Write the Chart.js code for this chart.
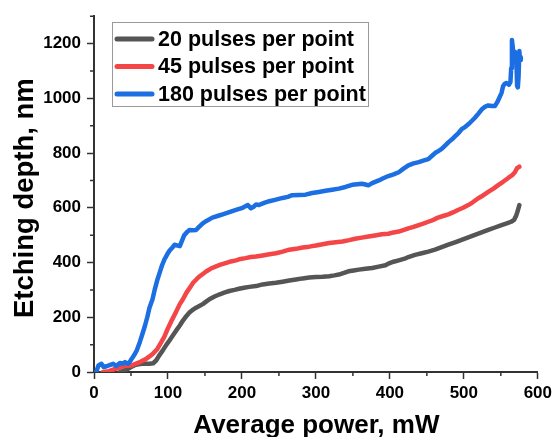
<!DOCTYPE html>
<html>
<head>
<meta charset="utf-8">
<script src="https://cdn.jsdelivr.net/npm/chart.js@4"></script>
<style>
  html, body { margin: 0; padding: 0; background: #ffffff; }
  canvas { display: block; }
</style>
</head>
<body>
<canvas id="c" width="556" height="437"></canvas>
<script>
// ---------------- DATA ----------------
const seriesLabels = ['20 pulses per point', '45 pulses per point', '180 pulses per point'];
const seriesColors = ['#555555', '#f44646', '#1b6fe2'];

const xTitle = 'Average power, mW';
const yTitle = 'Etching depth, nm';

const xTicks = [0, 100, 200, 300, 400, 500, 600];
const xMinor = [50, 150, 250, 350, 450, 550];
const yTicks = [0, 200, 400, 600, 800, 1000, 1200];
const yMinor = [100, 300, 500, 700, 900, 1100, 1300];

// 20 pulses per point
const blackX = [35,40,45,50,55,60,65,70,75,80,84,88,93,98,102,107,111,116,120,125,129,134,138,143,147,152,156,163,170,176,183,190,196,203,210,219,228,237,246,255,264,273,282,291,300,309,318,325,331,338,344,351,358,367,376,385,394,398,405,412,420,425,434,443,452,461,470,479,488,497,506,515,524,533,542,551,558,564,568,571,573,575];
const blackY = [0,5,10,18,25,28,30,30,30,32,42,60,79,100,115,135,151,170,187,205,217,228,235,242,248,258,266,276,284,290,296,300,304,308,311,314,320,323,326,330,334,338,342,345,347,348,350,353,356,362,368,371,374,377,380,385,390,396,403,408,414,420,428,434,440,447,456,465,474,483,492,501,510,519,528,537,543,549,556,573,590,610];

// 45 pulses per point
const redX = [12,20,26,33,39,45,51,56,62,66,70,75,80,85,89,95,100,105,110,116,120,125,130,134,139,143,148,152,158,165,172,178,185,192,198,205,212,219,228,237,246,255,264,273,282,291,300,309,318,327,336,345,353,362,371,380,389,398,405,412,420,425,432,439,446,452,459,465,472,479,486,492,499,506,512,519,526,533,540,546,553,560,565,569,572,575];
const redY = [0,3,9,14,21,23,24,30,36,42,47,57,68,82,100,128,160,188,215,248,265,290,310,326,340,350,360,368,378,386,393,398,404,408,413,416,420,422,426,430,434,440,447,450,455,458,462,467,471,474,477,482,487,491,495,499,503,505,510,513,520,525,530,537,543,549,556,564,570,576,584,592,600,610,620,634,645,658,670,682,695,709,718,730,745,750];

// 180 pulses per point
const blueX = [3,6,10,13,17,21,26,30,35,39,42,46,48,51,55,58,62,65,69,72,75,79,82,86,89,92,95,99,102,106,109,113,116,119,122,126,129,133,138,142,147,152,160,167,174,181,187,194,201,205,208,212,216,219,223,230,237,246,255,262,268,277,286,295,304,313,322,331,340,349,356,362,367,371,376,385,391,398,405,412,418,425,432,439,445,452,457,461,466,470,475,479,484,488,493,497,502,506,511,515,520,524,529,533,538,542,545,548,551,553,555,557,559,561,563,564,565,566,567,568,569,570,571,572,573,574,575,576,577];
const blueY = [0,24,30,18,21,25,30,22,33,30,36,30,36,48,65,80,110,135,170,200,235,265,300,340,365,390,410,430,443,455,465,462,460,480,500,512,519,518,519,530,543,552,564,570,576,582,588,594,600,606,610,598,604,612,610,618,624,630,636,640,646,647,648,654,658,662,666,670,676,684,686,688,685,682,690,700,708,716,722,730,742,755,762,767,772,778,790,800,808,815,828,839,850,861,874,887,896,905,918,929,945,959,970,974,972,972,985,1002,1020,1044,1052,1056,1054,1050,1060,1110,1213,1190,1160,1170,1150,1160,1140,1045,1040,1080,1173,1140,1150];

// ---------------- CHART ----------------
const FONT = "'Liberation Sans', Arial, Helvetica, sans-serif";
const AXIS_COLOR = '#333333';

function pts(xs, ys) { return xs.map((x, i) => ({ x: x, y: ys[i] })); }

const xsList = [blackX, redX, blueX];
const ysList = [blackY, redY, blueY];

const datasets = seriesLabels.map((lab, i) => ({
  label: lab,
  data: pts(xsList[i], ysList[i]),
  borderColor: seriesColors[i],
  backgroundColor: seriesColors[i],
  borderWidth: 4.5,
  pointRadius: 0,
  tension: 0,
  fill: false,
  borderJoinStyle: 'round',
  borderCapStyle: 'round',
  order: 3 - i
}));

const minorTicks = {
  id: 'minorTicks',
  afterDraw(chart) {
    const ctx = chart.ctx;
    const xs = chart.scales.x, ys = chart.scales.y;
    const area = chart.chartArea;
    ctx.save();
    ctx.strokeStyle = AXIS_COLOR;
    ctx.lineWidth = 1.5;
    ctx.beginPath();
    yMinor.forEach(v => {
      const y = ys.getPixelForValue(v);
      ctx.moveTo(area.left - 4, y);
      ctx.lineTo(area.left, y);
    });
    xMinor.forEach(v => {
      const x = xs.getPixelForValue(v);
      ctx.moveTo(x, area.bottom);
      ctx.lineTo(x, area.bottom + 4);
    });
    ctx.stroke();
    ctx.restore();
  }
};

// axis titles, placed relative to the chart area
const axisTitles = {
  id: 'axisTitles',
  afterDraw(chart) {
    const ctx = chart.ctx;
    const a = chart.chartArea;
    ctx.save();
    ctx.fillStyle = '#000000';
    ctx.textAlign = 'center';
    ctx.textBaseline = 'alphabetic';
    ctx.font = 'bold 26px ' + FONT;
    ctx.fillText(xTitle, (a.left + a.right) / 2 + 0.5, chart.height - 4);
    ctx.translate(32.5, (a.top + a.bottom) / 2 + 4);
    ctx.rotate(-Math.PI / 2);
    ctx.font = 'bold 27.5px ' + FONT;
    ctx.fillText(yTitle, 0, 0);
    ctx.restore();
  }
};

const boxLegend = {
  id: 'boxLegend',
  afterDraw(chart) {
    const ctx = chart.ctx;
    const ds = chart.data.datasets;
    const bx = 112.5, by = 22.5;
    const lineX0 = 117, lineX1 = 152, textX = 158;
    const rowY = [39, 66.5, 94];
    ctx.save();
    ctx.font = 'bold 21.5px ' + FONT;
    let maxW = 0;
    ds.forEach(d => { maxW = Math.max(maxW, ctx.measureText(d.label).width); });
    const bw = Math.round(textX + maxW + 3 - bx);
    const bh = 84;
    ctx.fillStyle = '#ffffff';
    ctx.fillRect(bx, by, bw, bh);
    ctx.strokeStyle = '#9a9a9a';
    ctx.lineWidth = 1;
    ctx.strokeRect(bx, by, bw, bh);
    ds.forEach((d, i) => {
      ctx.strokeStyle = d.borderColor;
      ctx.lineWidth = 5;
      ctx.lineCap = 'round';
      ctx.beginPath();
      ctx.moveTo(lineX0, rowY[i]);
      ctx.lineTo(lineX1, rowY[i]);
      ctx.stroke();
      ctx.fillStyle = '#000000';
      ctx.textBaseline = 'middle';
      ctx.textAlign = 'left';
      ctx.fillText(d.label, textX, rowY[i] + 1);
    });
    ctx.restore();
  }
};

new Chart(document.getElementById('c'), {
  type: 'line',
  data: { datasets: datasets },
  options: {
    responsive: false,
    animation: false,
    devicePixelRatio: 1,
    layout: { padding: { top: 13, right: 16, left: 0, bottom: 0 } },
    plugins: {
      legend: { display: false },
      tooltip: { enabled: false },
      title: { display: false }
    },
    scales: {
      x: {
        type: 'linear',
        min: 0,
        max: 600,
        afterFit(s) { s.height = 65; },
        afterBuildTicks(s) { s.ticks = xTicks.map(v => ({ value: v })); },
        grid: { drawOnChartArea: false, drawTicks: true, tickLength: 7, tickWidth: 1.5, tickColor: AXIS_COLOR },
        border: { display: true, color: AXIS_COLOR, width: 2 },
        ticks: {
          padding: 4,
          maxRotation: 0,
          autoSkip: false,
          color: '#000000',
          callback: v => String(v),
          font: { family: FONT, size: 17, weight: 'bold' }
        }
      },
      y: {
        type: 'linear',
        min: 0,
        max: 1300,
        afterFit(s) { s.width = 94; },
        afterBuildTicks(s) { s.ticks = yTicks.map(v => ({ value: v })); },
        grid: { drawOnChartArea: false, drawTicks: true, tickLength: 7, tickWidth: 1.5, tickColor: AXIS_COLOR },
        border: { display: true, color: AXIS_COLOR, width: 2 },
        ticks: {
          padding: 6,
          autoSkip: false,
          color: '#000000',
          callback: v => String(v),
          font: { family: FONT, size: 17, weight: 'bold' }
        }
      }
    }
  },
  plugins: [minorTicks, axisTitles, boxLegend]
});
</script>
</body>
</html>
